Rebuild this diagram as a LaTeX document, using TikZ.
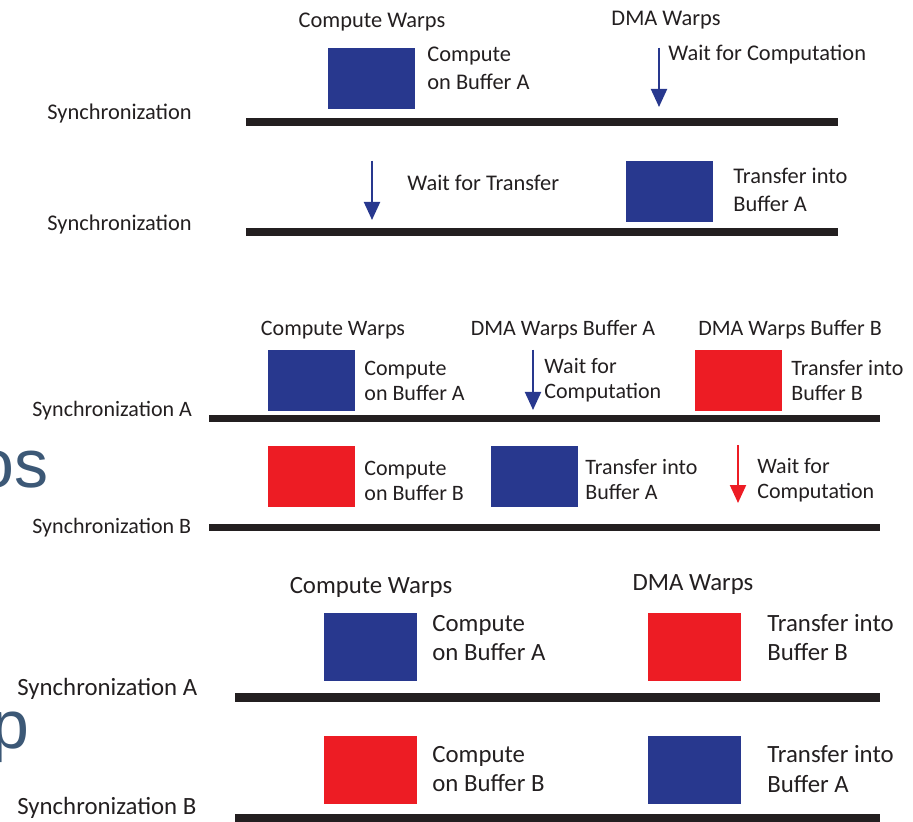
\documentclass[tikz,border=0pt]{standalone}
\usepackage{fontspec}
\setmainfont{Carlito}
\newfontfamily\slidefont{Liberation Sans}
\usepackage{xcolor}
\usetikzlibrary{arrows.meta,positioning}

\definecolor{bufblue}{RGB}{40,56,142}
\definecolor{bufred}{RGB}{237,28,36}
\definecolor{inkgray}{RGB}{35,31,32}
\definecolor{slideblue}{RGB}{60,88,118}

\begin{document}
\begin{tikzpicture}[x=0.5pt, y=-0.5pt]
  \tikzstyle{blk}=[rectangle, inner sep=0pt, minimum width=43.5pt, minimum height=30.5pt]
  \tikzstyle{bigblk}=[rectangle, inner sep=0pt, minimum width=46.5pt, minimum height=34pt]
  \tikzstyle{txt}=[anchor=west, inner sep=0pt, align=left, text=inkgray, font=\fontsize{11.2}{14}\selectfont]
  \tikzstyle{midtxt}=[txt, font=\fontsize{11}{12.5}\selectfont]
  \tikzstyle{bigtxt}=[txt, font=\fontsize{12.4}{14.6}\selectfont]
  \tikzstyle{bar}=[line width=4pt, draw=inkgray]
  \tikzstyle{warr}=[line width=1pt, -{Triangle[width=8pt,length=9pt]}]

  \useasboundingbox (0,0) rectangle (913,822);

  % Leftover slide text
  \node[anchor=base east, inner sep=0pt, text=slideblue, font=\slidefont\fontsize{34}{34}\selectfont] (slideos) at (49,487) {os};
  \node[anchor=base west, inner sep=0pt, text=slideblue, font=\slidefont\fontsize{34}{34}\selectfont] (slidep) at (-9,748) {p};

  % Panel 1: single buffer
  \node[txt, anchor=center] (cw1) at (372,22) {Compute Warps};
  \node[txt, anchor=center] (dma1) at (666,20) {DMA Warps};
  \node[blk, fill=bufblue] (comp1) at (371,78.5) {};
  \node[txt] (comp1t) at (427,68) {Compute\\on Buffer A};
  \coordinate (w1s) at (659,48);
  \coordinate (w1e) at (659,107);
  \draw[warr, draw=bufblue, fill=bufblue] (w1s) -- (w1e);
  \node[txt] (w1t) at (668,55) {Wait for Computation};
  \node[txt] (sync1) at (47,114) {Synchronization};
  \coordinate (b1a) at (246,122);
  \coordinate (b1b) at (838,122);
  \draw[bar] (b1a) -- (b1b);

  \coordinate (w2s) at (372,161);
  \coordinate (w2e) at (372,220);
  \draw[warr, draw=bufblue, fill=bufblue] (w2s) -- (w2e);
  \node[txt] (w2t) at (407,183) {Wait for Transfer};
  \node[blk, fill=bufblue] (tr1) at (669,191.5) {};
  \node[txt] (tr1t) at (733,190) {Transfer into\\Buffer A};
  \node[txt] (sync2) at (47,225) {Synchronization};
  \coordinate (b2a) at (246,232);
  \coordinate (b2b) at (838,232);
  \draw[bar] (b2a) -- (b2b);

  % Panel 2: double buffer, three warp groups
  \node[midtxt, anchor=center] (cw2) at (333,330) {Compute Warps};
  \node[midtxt, anchor=center] (dma2a) at (563,330) {DMA Warps Buffer A};
  \node[midtxt, anchor=center] (dma2b) at (790,330) {DMA Warps Buffer B};
  \node[blk, fill=bufblue] (comp2a) at (311,380.5) {};
  \node[midtxt] (comp2at) at (364,380.5) {Compute\\on Buffer A};
  \coordinate (w3s) at (533,350);
  \coordinate (w3e) at (533,410);
  \draw[warr, draw=bufblue, fill=bufblue] (w3s) -- (w3e);
  \node[midtxt] (w3t) at (544,380.5) {Wait for\\Computation};
  \node[blk, fill=bufred] (tr2b) at (738,380.5) {};
  \node[midtxt] (tr2bt) at (791,380.5) {Transfer into\\Buffer B};
  \node[midtxt] (sync2a) at (32,411) {Synchronization A};
  \coordinate (b3a) at (209,419);
  \coordinate (b3b) at (880,419);
  \draw[bar, line width=3.5pt] (b3a) -- (b3b);

  \node[blk, fill=bufred] (comp2b) at (311,476) {};
  \node[midtxt] (comp2bt) at (364,481) {Compute\\on Buffer B};
  \node[blk, fill=bufblue] (tr2a) at (534,476) {};
  \node[midtxt] (tr2at) at (585,480) {Transfer into\\Buffer A};
  \coordinate (w4s) at (738,445);
  \coordinate (w4e) at (738,503);
  \draw[warr, draw=bufred, fill=bufred] (w4s) -- (w4e);
  \node[midtxt] (w4t) at (757,480) {Wait for\\Computation};
  \node[midtxt] (sync2b) at (32,528) {Synchronization B};
  \coordinate (b4a) at (209,527);
  \coordinate (b4b) at (880,527);
  \draw[bar, line width=3.5pt] (b4a) -- (b4b);

  % Panel 3: double buffer, two warp groups
  \node[bigtxt, anchor=center] (cw3) at (371,587) {Compute Warps};
  \node[bigtxt, anchor=center] (dma3) at (693,585) {DMA Warps};
  \node[bigblk, fill=bufblue] (comp3a) at (370.5,647) {};
  \node[bigtxt] (comp3at) at (432,638) {Compute\\on Buffer A};
  \node[bigblk, fill=bufred] (tr3b) at (694,647) {};
  \node[bigtxt] (tr3bt) at (767,637.5) {Transfer into\\Buffer B};
  \node[bigtxt] (sync3a) at (17,689) {Synchronization A};
  \coordinate (b5a) at (235,697);
  \coordinate (b5b) at (880,697);
  \draw[bar, line width=4.5pt] (b5a) -- (b5b);

  \node[bigblk, fill=bufred] (comp3b) at (370.5,770) {};
  \node[bigtxt] (comp3bt) at (432,769) {Compute\\on Buffer B};
  \node[bigblk, fill=bufblue] (tr3a) at (694,770) {};
  \node[bigtxt] (tr3at) at (767,769) {Transfer into\\Buffer A};
  \node[bigtxt] (sync3b) at (17,808) {Synchronization B};
  \coordinate (b6a) at (235,818);
  \coordinate (b6b) at (880,818);
  \draw[bar, line width=4.5pt] (b6a) -- (b6b);
\end{tikzpicture}
\end{document}
